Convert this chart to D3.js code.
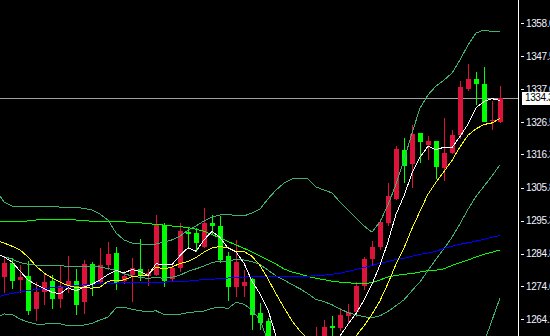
<!DOCTYPE html>
<html><head><meta charset="utf-8">
<script src="https://cdn.jsdelivr.net/npm/d3@7"></script>
<style>html,body{margin:0;padding:0;background:#000;overflow:hidden}</style>
</head><body><svg id="c" width="550" height="336"></svg>
<script>
// ---- candles (index 0..62) ----
const opens=[1277.5,1281.8,1276.6,1277.7,1267.3,1272.8,1276.2,1270.4,1274.3,1276.2,1269.6,1281.5,1275.9,1281.2,1284.9,1276.2,1277.9,1280.0,1277.6,1278.1,1293.9,1276.8,1280.4,1291.8,1291.5,1287.0,1294.6,1293.6,1284.2,1274.3,1274.7,1276.7,1266.1,1263.6,1247.9,1240.9,1252.4,1248.5,1250.4,1247.3,1255.9,1262.0,1261.3,1265.1,1266.2,1274.6,1283.1,1286.9,1294.6,1302.2,1317.7,1313.3,1323.1,1319.3,1320.6,1312.1,1316.9,1322.5,1337.1,1340.2,1338.7,1326.8,1326.7];
const highs=[1283.4,1283.4,1281.2,1282.5,1275.8,1278.7,1278.1,1281.0,1284.1,1280.0,1282.8,1282.2,1286.6,1288.5,1287.0,1279.3,1283.4,1289.5,1280.0,1297.1,1294.6,1281.5,1294.6,1293.3,1293.0,1299.3,1297.1,1296.8,1285.4,1289.2,1279.6,1277.1,1269.1,1264.4,1249.2,1253.6,1254.3,1252.7,1253.6,1261.6,1263.8,1265.0,1267.5,1268.9,1275.8,1283.9,1288.8,1295.7,1307.4,1319.0,1321.4,1325.8,1323.1,1322.2,1320.6,1327.8,1324.1,1339.6,1345.0,1342.5,1344.0,1333.4,1338.0];
const lows=[1272.3,1273.5,1272.3,1265.4,1263.5,1268.5,1267.3,1267.7,1272.3,1265.4,1265.8,1271.4,1275.2,1279.6,1273.3,1275.2,1269.5,1276.2,1274.7,1277.6,1274.3,1275.9,1279.1,1286.2,1285.4,1286.5,1290.7,1281.8,1269.9,1271.0,1271.2,1260.6,1260.6,1247.3,1239.0,1239.7,1248.5,1247.3,1245.4,1246.0,1254.3,1257.4,1260.3,1262.7,1264.6,1273.3,1280.9,1286.1,1293.6,1301.8,1307.2,1305.7,1313.7,1314.5,1308.4,1308.0,1316.6,1321.2,1336.5,1331.9,1326.6,1324.1,1326.4];
const closes=[1282.0,1276.2,1277.4,1266.6,1272.8,1275.8,1270.4,1274.6,1276.2,1268.5,1281.5,1274.9,1281.2,1284.7,1275.4,1277.6,1280.3,1277.8,1278.6,1293.9,1276.2,1280.4,1292.0,1291.0,1288.3,1294.5,1293.6,1282.8,1274.2,1282.3,1275.9,1265.4,1262.7,1248.5,1240.9,1251.1,1250.8,1250.8,1247.9,1257.4,1261.6,1261.3,1265.4,1266.2,1274.6,1283.1,1286.9,1295.0,1303.1,1318.0,1312.7,1322.8,1320.3,1320.6,1312.4,1316.7,1322.5,1337.7,1340.2,1338.6,1326.7,1327.1,1334.3];

// ---- indicator lines (index -1..62) ----
const maWhite=[1285.0,1283.8,1282.2,1279.3,1276.5,1275.0,1273.8,1272.6,1272.1,1274.0,1273.1,1274.2,1275.1,1276.5,1278.2,1279.5,1278.7,1279.8,1279.2,1277.9,1281.6,1281.4,1281.4,1284.2,1286.7,1285.6,1289.2,1291.9,1290.0,1286.6,1285.4,1281.8,1276.1,1272.1,1267.0,1258.7,1253.7,1250.8,1248.4,1248.3,1251.6,1253.7,1255.8,1258.7,1262.4,1265.8,1270.1,1275.2,1281.2,1288.6,1297.3,1303.2,1310.3,1315.4,1318.9,1317.8,1318.6,1318.5,1322.0,1325.9,1331.1,1333.1,1334.0,1333.4];
const maYellow=[1289.0,1288.2,1287.2,1286.0,1283.8,1280.9,1278.7,1277.1,1275.8,1274.7,1274.1,1274.0,1273.9,1274.2,1276.1,1276.3,1276.5,1277.5,1277.8,1278.0,1280.6,1280.0,1280.6,1281.7,1282.3,1283.6,1285.3,1286.6,1287.1,1286.7,1285.5,1285.5,1284.0,1281.1,1276.8,1272.1,1267.7,1263.5,1260.3,1257.6,1255.1,1253.7,1253.3,1253.6,1255.3,1258.7,1261.9,1265.6,1269.9,1275.4,1281.5,1286.6,1292.8,1298.3,1303.7,1307.5,1310.9,1314.4,1318.7,1322.4,1324.4,1325.8,1326.3,1327.7];
const maLime=[1295.0,1295.0,1295.0,1295.0,1295.2,1295.5,1295.7,1295.7,1295.7,1295.7,1295.5,1295.3,1295.1,1295.0,1295.0,1295.0,1294.9,1294.8,1294.6,1294.4,1294.1,1293.9,1293.6,1293.4,1293.1,1292.6,1291.9,1290.9,1289.8,1288.7,1287.6,1286.5,1285.4,1284.1,1282.8,1281.5,1280.0,1279.0,1278.4,1277.6,1277.0,1276.6,1276.1,1275.8,1275.6,1275.4,1275.4,1275.6,1276.5,1277.4,1277.9,1278.3,1278.5,1279.0,1279.4,1279.6,1280.0,1281.1,1282.0,1282.8,1283.8,1284.6,1285.3,1286.0];
const maBlue=[1270.9,1271.7,1272.2,1272.7,1273.1,1273.4,1273.8,1274.0,1274.2,1274.5,1274.7,1274.9,1275.1,1275.3,1275.4,1275.5,1275.6,1275.6,1275.7,1275.7,1275.7,1275.8,1275.9,1275.9,1276.1,1276.4,1276.6,1276.7,1276.9,1277.1,1277.3,1277.4,1277.5,1277.7,1277.7,1277.7,1277.7,1277.7,1277.7,1277.7,1277.8,1278.0,1278.3,1278.6,1279.2,1279.8,1280.4,1281.1,1281.8,1282.3,1283.0,1283.4,1284.0,1284.6,1285.0,1285.6,1286.5,1287.2,1287.8,1288.3,1288.8,1289.4,1290.0,1290.6];
const bbUpper=[1305.0,1301.2,1299.9,1299.9,1299.9,1299.9,1299.9,1299.8,1299.6,1299.5,1299.5,1299.2,1298.7,1297.4,1295.5,1291.4,1289.2,1288.2,1287.9,1287.6,1287.9,1288.5,1289.2,1290.4,1292.3,1293.6,1295.2,1296.5,1297.1,1297.4,1296.8,1296.8,1297.7,1299.0,1302.2,1305.0,1307.2,1308.5,1308.8,1308.5,1306.0,1305.0,1304.1,1301.2,1298.7,1296.1,1293.6,1291.7,1294.9,1300.3,1306.9,1314.5,1323.1,1331.0,1335.2,1338.0,1339.9,1342.1,1346.3,1351.0,1354.8,1355.8,1355.3,1355.2];
const bbMiddle=[1284.7,1283.9,1283.1,1282.0,1281.5,1281.2,1281.2,1281.2,1281.1,1280.7,1280.7,1280.7,1280.7,1280.6,1280.1,1279.5,1278.5,1277.7,1277.3,1277.0,1277.3,1277.0,1277.3,1278.0,1279.2,1280.0,1280.9,1282.0,1282.5,1282.4,1283.1,1282.8,1282.3,1281.4,1279.6,1277.8,1276.5,1275.0,1273.7,1272.1,1270.3,1269.6,1268.6,1267.3,1266.1,1265.4,1264.8,1264.5,1265.1,1266.5,1268.3,1270.2,1273.1,1275.9,1279.5,1283.1,1286.4,1290.0,1294.3,1298.9,1303.0,1306.2,1309.5,1313.0];
const bbLower=[1264.4,1265.7,1265.6,1264.1,1263.1,1262.5,1262.5,1262.6,1262.6,1261.9,1261.9,1262.2,1262.7,1263.8,1264.7,1267.6,1267.8,1267.2,1266.7,1266.4,1266.7,1265.5,1265.4,1265.6,1266.1,1266.4,1266.6,1267.5,1267.9,1267.4,1269.4,1268.8,1266.9,1263.8,1257.0,1250.6,1245.8,1241.5,1238.6,1235.7,1234.6,1234.2,1233.1,1233.4,1233.5,1234.7,1236.0,1237.3,1235.3,1232.7,1229.7,1225.9,1223.1,1220.8,1223.8,1228.2,1232.9,1237.9,1242.3,1246.8,1251.2,1256.6,1263.7,1270.8];

// ---- axis ----
const tickValues=[1358.0,1347.5,1337.0,1326.5,1316.3,1305.8,1295.3,1284.8,1274.6,1264.1];
const tickLabels=["1358.0","1347.5","1337.0","1326.5","1316.3","1305.8","1295.3","1284.8","1274.6","1264.1"];
const lastPrice=1334.3;

const W=550,H=336,AX=518;
const FONT='"Liberation Sans", Arial, sans-serif';
const svg=d3.select('#c');
svg.append('rect').attr('width',W).attr('height',H).attr('fill','#000');
svg.append('defs').append('clipPath').attr('id','clip')
  .append('rect').attr('x',0).attr('y',0).attr('width',AX).attr('height',H);

const x=d3.scaleLinear().domain([0,62]).range([4,500]);
const y=d3.scaleLinear().domain([1264.1,1358.0]).range([319,23]);
const plot=svg.append('g').attr('clip-path','url(#clip)');

// price line
const py=Math.round(y(lastPrice))+0.5;
plot.append('line').attr('x1',0).attr('x2',AX).attr('y1',py).attr('y2',py)
  .attr('stroke','#a0a0a0').attr('stroke-width',1).attr('shape-rendering','crispEdges');

// candles
const candles=d3.range(opens.length).map(i=>({i,o:opens[i],h:highs[i],l:lows[i],c:closes[i]}));
const col=d=>d.c>=d.o?'#dc143c':'#00ff00';
const cg=plot.append('g').attr('shape-rendering','crispEdges');
cg.selectAll('rect.w').data(candles).join('rect').attr('class','w')
  .attr('x',d=>Math.round(x(d.i))).attr('width',1)
  .attr('y',d=>Math.round(y(d.h))).attr('height',d=>Math.max(1,Math.round(y(d.l))-Math.round(y(d.h))))
  .attr('fill',col);
cg.selectAll('rect.b').data(candles).join('rect').attr('class','b')
  .attr('x',d=>Math.round(x(d.i))-2).attr('width',5)
  .attr('y',d=>Math.round(y(Math.max(d.o,d.c))))
  .attr('height',d=>Math.max(1,Math.round(y(Math.min(d.o,d.c)))-Math.round(y(Math.max(d.o,d.c)))))
  .attr('fill',col);

// lines
const lineGen=d3.line().x((d,k)=>x(k-1)).y(d=>y(d));
const series=[
  [bbUpper,'#3cb371'],[bbMiddle,'#3cb371'],[bbLower,'#3cb371'],
  [maLime,'#00ff00'],[maBlue,'#0000ff'],[maYellow,'#ffff00'],[maWhite,'#ffffff']
];
series.forEach(([data,color])=>{
  plot.append('path').datum(data).attr('d',lineGen).attr('fill','none')
    .attr('stroke',color).attr('stroke-width',1).attr('shape-rendering','crispEdges');
});

// axis
svg.append('line').attr('x1',AX+0.5).attr('x2',AX+0.5).attr('y1',0).attr('y2',H)
  .attr('stroke','#ffffff').attr('shape-rendering','crispEdges');
const axis=d3.axisRight(y).tickValues(tickValues).tickFormat((d,i)=>tickLabels[i]).tickSize(3).tickPadding(2);
const ag=svg.append('g').attr('transform','translate(521,0)').call(axis);
ag.select('.domain').remove();
ag.selectAll('.tick line').attr('stroke','#ffffff').attr('shape-rendering','crispEdges');
ag.selectAll('.tick text').attr('fill','#f2f4ff').attr('font-family',FONT)
  .attr('font-size','10px').attr('letter-spacing','-0.4px');

// last price label
svg.append('rect').attr('x',522).attr('y',Math.round(y(lastPrice))-6).attr('width',30).attr('height',13)
  .attr('fill','#ffffff');
svg.append('text').attr('x',525).attr('y',y(lastPrice)).attr('dy','0.34em')
  .attr('fill','#000').attr('font-family',FONT).attr('font-size','10px').attr('letter-spacing','-0.4px')
  .text(lastPrice.toFixed(1));
</script></body></html>
